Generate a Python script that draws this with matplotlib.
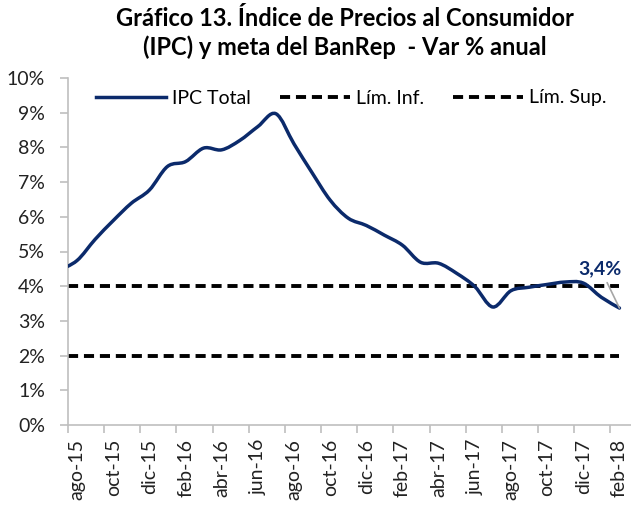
import matplotlib
matplotlib.use('Agg')
import matplotlib.pyplot as plt
from matplotlib.path import Path
from matplotlib.patches import PathPatch
import numpy as np

plt.rcParams['font.family'] = ['Lato', 'DejaVu Sans']

# monthly annual CPI change (%), jul-15 .. feb-18 (jul-15 only feeds the left edge)
months = ['jul-15', 'ago-15', 'sep-15', 'oct-15', 'nov-15', 'dic-15',
          'ene-16', 'feb-16', 'mar-16', 'abr-16', 'may-16', 'jun-16',
          'jul-16', 'ago-16', 'sep-16', 'oct-16', 'nov-16', 'dic-16',
          'ene-17', 'feb-17', 'mar-17', 'abr-17', 'may-17', 'jun-17',
          'jul-17', 'ago-17', 'sep-17', 'oct-17', 'nov-17', 'dic-17',
          'ene-18', 'feb-18']
ipc = [4.46, 4.74, 5.35, 5.89, 6.39, 6.77,
       7.45, 7.59, 7.98, 7.93, 8.20, 8.60,
       8.97, 8.10, 7.27, 6.48, 5.96, 5.75,
       5.47, 5.18, 4.69, 4.66, 4.37, 3.99,
       3.40, 3.87, 3.97, 4.05, 4.12, 4.09,
       3.68, 3.37]
lim_inf = 2.0
lim_sup = 4.0
last_label = '3,4%'

navy = '#0b2a6b'
fs = 14

fig = plt.figure(figsize=(6.31, 5.07), dpi=100)
ax = fig.add_axes([68 / 631, 1 - 425 / 507, 1 - 68 / 631, (425 - 78) / 507])

x = np.arange(len(months)) - 1  # ago-15 -> 0
y = np.array(ipc)

# smoothed line (excel style bezier through the data points)
pts = np.column_stack([x, y])
verts = [pts[0]]
codes = [Path.MOVETO]
n = len(pts)
for i in range(n - 1):
    p0 = pts[i - 1] if i > 0 else pts[i]
    p1, p2 = pts[i], pts[i + 1]
    p3 = pts[i + 2] if i + 2 < n else pts[i + 1]
    verts += [p1 + (p2 - p0) / 6, p2 - (p3 - p1) / 6, p2]
    codes += [Path.CURVE4] * 3
ax.add_patch(PathPatch(Path(verts, codes), fill=False, edgecolor=navy,
                       lw=2.5, capstyle='round', joinstyle='round', zorder=3))

xs = [-0.5, x[-1]]
ax.plot(xs, [lim_sup, lim_sup], color='black', lw=2.8, dashes=(2.6, 1.5), zorder=2)
ax.plot(xs, [lim_inf, lim_inf], color='black', lw=2.8, dashes=(2.6, 1.5), zorder=2)

# legend handles
h1, = ax.plot([], [], color=navy, lw=2.5, label='IPC Total')
h2, = ax.plot([], [], color='black', lw=2.8, dashes=(2.6, 1.5), label='Lím. Inf.')
h3, = ax.plot([], [], color='black', lw=2.8, dashes=(2.6, 1.5), label='Lím. Sup.')
ax.legend(handles=[h1, h2, h3], ncol=3, frameon=False, fontsize=fs,
          handlelength=3.6, handletextpad=0.3, columnspacing=1.5,
          loc='center', bbox_to_anchor=(351 / 631, 1 - 98 / 507),
          bbox_transform=fig.transFigure)

ax.annotate(last_label, xy=(x[-1], y[-1]), xytext=(28.95, 4.5),
            ha='center', va='center', fontsize=fs, fontweight='bold', color=navy,
            arrowprops=dict(arrowstyle='-', color='#a6a6a6', lw=1.2, shrinkA=2, shrinkB=0))

ax.set_ylim(0, 10)
ax.set_xlim(-0.5, (631 - 68) / 18.08 - 0.5)
ax.set_yticks(range(0, 11))
ax.set_yticklabels([f'{v}%' for v in range(0, 11)])

label_pos = x[1::2]
ax.set_xticks(label_pos)
ax.set_xticklabels([months[i + 1] for i in label_pos], rotation=90)
ax.set_xticks(label_pos - 0.5, minor=True)
ax.tick_params(axis='x', which='major', length=0, pad=10, labelsize=fs, colors='#222222')
ax.tick_params(axis='x', which='minor', length=6, width=1.2, color='#bfbfbf')
ax.tick_params(axis='y', length=6, width=1.2, color='#bfbfbf', pad=10.5,
               labelsize=fs, labelcolor='#222222')

for s in ['top', 'right']:
    ax.spines[s].set_visible(False)
for s in ['left', 'bottom']:
    ax.spines[s].set_color('#bfbfbf')
    ax.spines[s].set_linewidth(1.2)

fig.text(345 / 631, 1 - 18 / 507, 'Gráfico 13. Índice de Precios al Consumidor',
         ha='center', va='center', fontsize=17, fontweight='bold')
fig.text(345 / 631, 1 - 47 / 507, '(IPC) y meta del BanRep  - Var % anual',
         ha='center', va='center', fontsize=17, fontweight='bold')

fig.savefig('out.png', dpi=100)
